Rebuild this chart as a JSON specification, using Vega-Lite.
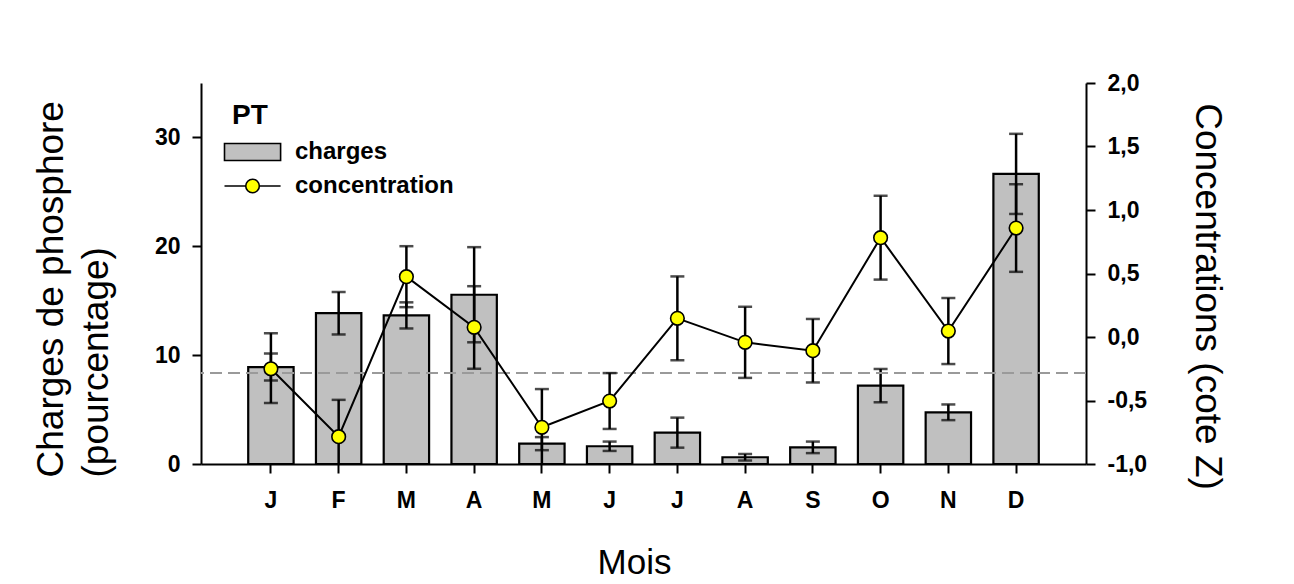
{
  "$schema": "https://vega.github.io/schema/vega-lite/v6.json",
  "width": 885,
  "height": 381,
  "autosize": "none",
  "padding": {"left": 201, "top": 83, "right": 208, "bottom": 120},
  "background": "white",
  "data": {
    "values": [
      {"mois": "Janv", "charge": 8.9, "charge_lo": 7.66, "charge_hi": 10.14, "conc": -0.25, "conc_lo": -0.52, "conc_hi": 0.03},
      {"mois": "Févr", "charge": 13.86, "charge_lo": 11.9, "charge_hi": 15.8, "conc": -0.785, "conc_lo": -1.075, "conc_hi": -0.495},
      {"mois": "Mars", "charge": 13.65, "charge_lo": 12.45, "charge_hi": 14.85, "conc": 0.475, "conc_lo": 0.235, "conc_hi": 0.715},
      {"mois": "Avr", "charge": 15.55, "charge_lo": 11.18, "charge_hi": 19.92, "conc": 0.076, "conc_lo": -0.25, "conc_hi": 0.4},
      {"mois": "Mai", "charge": 1.87, "charge_lo": 1.27, "charge_hi": 2.47, "conc": -0.711, "conc_lo": -1.01, "conc_hi": -0.41},
      {"mois": "Juin", "charge": 1.63, "charge_lo": 1.2, "charge_hi": 2.06, "conc": -0.504, "conc_lo": -0.724, "conc_hi": -0.284},
      {"mois": "Juil", "charge": 2.88, "charge_lo": 1.5, "charge_hi": 4.26, "conc": 0.147, "conc_lo": -0.183, "conc_hi": 0.477},
      {"mois": "Août", "charge": 0.62, "charge_lo": 0.32, "charge_hi": 0.92, "conc": -0.042, "conc_lo": -0.322, "conc_hi": 0.238},
      {"mois": "Sept", "charge": 1.53, "charge_lo": 1.0, "charge_hi": 2.06, "conc": -0.108, "conc_lo": -0.358, "conc_hi": 0.142},
      {"mois": "Oct", "charge": 7.2, "charge_lo": 5.67, "charge_hi": 8.73, "conc": 0.782, "conc_lo": 0.452, "conc_hi": 1.112},
      {"mois": "Nov", "charge": 4.75, "charge_lo": 4.03, "charge_hi": 5.47, "conc": 0.047, "conc_lo": -0.213, "conc_hi": 0.307},
      {"mois": "Déc", "charge": 26.65, "charge_lo": 22.97, "charge_hi": 30.33, "conc": 0.858, "conc_lo": 0.513, "conc_hi": 1.203}
    ]
  },
  "layer": [
    {
      "layer": [
        {
          "mark": {"type": "bar", "fill": "#c0c0c0", "stroke": "black", "strokeWidth": 2.2},
          "encoding": {
            "x": {
              "field": "mois", "type": "nominal",
              "scale": {"type": "band", "domain": ["Janv","Févr","Mars","Avr","Mai","Juin","Juil","Août","Sept","Oct","Nov","Déc"], "paddingInner": 0.33, "paddingOuter": 0.697},
              "axis": {
                "title": "Mois", "labelAngle": 0, "labelPadding": 16,
                "labelExpr": "slice(datum.label, 0, 1)",
                "titleX": 433, "titleY": 109, "titleAlign": "center", "titleBaseline": "alphabetic"
              }
            },
            "y": {
              "field": "charge", "type": "quantitative",
              "scale": {"domain": [0, 35], "nice": false, "zero": true},
              "axis": {
                "title": ["Charges de phosphore", "(pourcentage)"],
                "values": [0, 10, 20, 30], "labelPadding": 12,
                "titleFontSize": 37,
                "titleAngle": 270, "titleAlign": "left", "titleBaseline": "alphabetic",
                "titleX": -139, "titleY": 394, "titleLineHeight": 45
              }
            }
          }
        },
        {
          "mark": {"type": "rule", "stroke": "black", "strokeWidth": 2.5},
          "encoding": {
            "x": {"field": "mois", "type": "nominal"},
            "y": {"field": "charge_lo", "type": "quantitative"},
            "y2": {"field": "charge_hi"}
          }
        },
        {
          "mark": {"type": "tick", "color": "black", "size": 14, "thickness": 2.5},
          "encoding": {
            "x": {"field": "mois", "type": "nominal"},
            "y": {"field": "charge_lo", "type": "quantitative"}
          }
        },
        {
          "mark": {"type": "tick", "color": "black", "size": 14, "thickness": 2.5},
          "encoding": {
            "x": {"field": "mois", "type": "nominal"},
            "y": {"field": "charge_hi", "type": "quantitative"}
          }
        },
        {
          "mark": {"type": "rule", "stroke": "#9a9a9a", "strokeWidth": 1.6, "strokeDash": [12, 6]},
          "encoding": {
            "y": {"datum": 8.33, "type": "quantitative"}
          }
        }
      ]
    },
    {
      "layer": [
        {
          "mark": {"type": "line", "stroke": "black", "strokeWidth": 2},
          "encoding": {
            "x": {"field": "mois", "type": "nominal"},
            "y": {
              "field": "conc", "type": "quantitative",
              "scale": {"domain": [-1, 2], "nice": false, "zero": false},
              "axis": {
                "orient": "right", "title": "Concentrations (cote Z)",
                "values": [-1, -0.5, 0, 0.5, 1, 1.5, 2], "labelPadding": 12,
                "labelExpr": "replace(replace(format(datum.value, '.1f'), '.', ','), '\u2212', '-')",
                "titleFontSize": 37,
                "titleAngle": 90, "titleAlign": "center", "titleBaseline": "alphabetic",
                "titleX": 109, "titleY": 213
              }
            }
          }
        },
        {
          "mark": {"type": "rule", "stroke": "black", "strokeWidth": 2.5, "clip": true},
          "encoding": {
            "x": {"field": "mois", "type": "nominal"},
            "y": {"field": "conc_lo", "type": "quantitative"},
            "y2": {"field": "conc_hi"}
          }
        },
        {
          "mark": {"type": "tick", "color": "black", "size": 14, "thickness": 2.5, "clip": true},
          "encoding": {
            "x": {"field": "mois", "type": "nominal"},
            "y": {"field": "conc_lo", "type": "quantitative"}
          }
        },
        {
          "mark": {"type": "tick", "color": "black", "size": 14, "thickness": 2.5},
          "encoding": {
            "x": {"field": "mois", "type": "nominal"},
            "y": {"field": "conc_hi", "type": "quantitative"}
          }
        },
        {
          "mark": {"type": "point", "filled": true, "fill": "#ffff00", "stroke": "black", "strokeWidth": 1.6, "size": 185, "opacity": 1},
          "encoding": {
            "x": {"field": "mois", "type": "nominal"},
            "y": {"field": "conc", "type": "quantitative"}
          }
        }
      ]
    },
    {
      "data": {"values": [{"series": "charges"}, {"series": "concentration"}]},
      "transform": [{"filter": "datum.series == 'aucune'"}],
      "mark": {"type": "point", "filled": true},
      "encoding": {
        "fill": {
          "field": "series", "type": "nominal",
          "scale": {"domain": ["charges", "concentration"], "range": ["#c0c0c0", "#ffff00"]},
          "legend": {
            "title": "PT", "orient": "none", "legendX": 20, "legendY": 19, "padding": 0,
            "titlePadding": 10, "rowPadding": 10, "labelOffset": 50,
            "symbolSize": 289, "symbolStrokeWidth": 1.5, "symbolStrokeColor": "black", "symbolOpacity": 1,
            "encode": {
              "symbols": {"update": {"stroke": {"value": "black"}, "strokeWidth": {"value": 1.6}, "opacity": {"value": 1}}},
              "title": {"update": {"dx": {"value": 11}}}
            }
          }
        },
        "shape": {
          "field": "series", "type": "nominal",
          "scale": {
            "domain": ["charges", "concentration"],
            "range": [
              "M-1,-1H5.6V1H-1Z",
              "M-1,0H1.5M3.1,0H5.6M3.1,0A0.8,0.8,0,1,1,1.5,0A0.8,0.8,0,1,1,3.1,0Z"
            ]
          },
          "legend": {
            "title": "PT", "orient": "none", "legendX": 20, "legendY": 19, "padding": 0,
            "titlePadding": 10, "rowPadding": 10, "labelOffset": 50,
            "symbolSize": 289, "symbolStrokeWidth": 1.5, "symbolStrokeColor": "black", "symbolOpacity": 1,
            "encode": {
              "symbols": {"update": {"stroke": {"value": "black"}, "strokeWidth": {"value": 1.6}, "opacity": {"value": 1}}},
              "title": {"update": {"dx": {"value": 11}}}
            }
          }
        }
      }
    }
  ],
  "resolve": {"scale": {"y": "independent"}},
  "config": {
    "view": {"stroke": null},
    "axis": {
      "domainColor": "black", "domainWidth": 2,
      "tickColor": "black", "tickWidth": 2, "tickSize": 9,
      "labelFont": "Liberation Sans", "labelFontSize": 23, "labelFontWeight": "bold", "labelColor": "black",
      "titleFont": "Liberation Sans", "titleFontSize": 35, "titleFontWeight": "normal", "titleColor": "black",
      "grid": false, "labelOverlap": false
    },
    "legend": {
      "titleFont": "Liberation Sans", "titleFontSize": 28, "titleFontWeight": "bold", "titleColor": "black",
      "labelFont": "Liberation Sans", "labelFontSize": 24, "labelFontWeight": "bold", "labelColor": "black"
    }
  }
}
